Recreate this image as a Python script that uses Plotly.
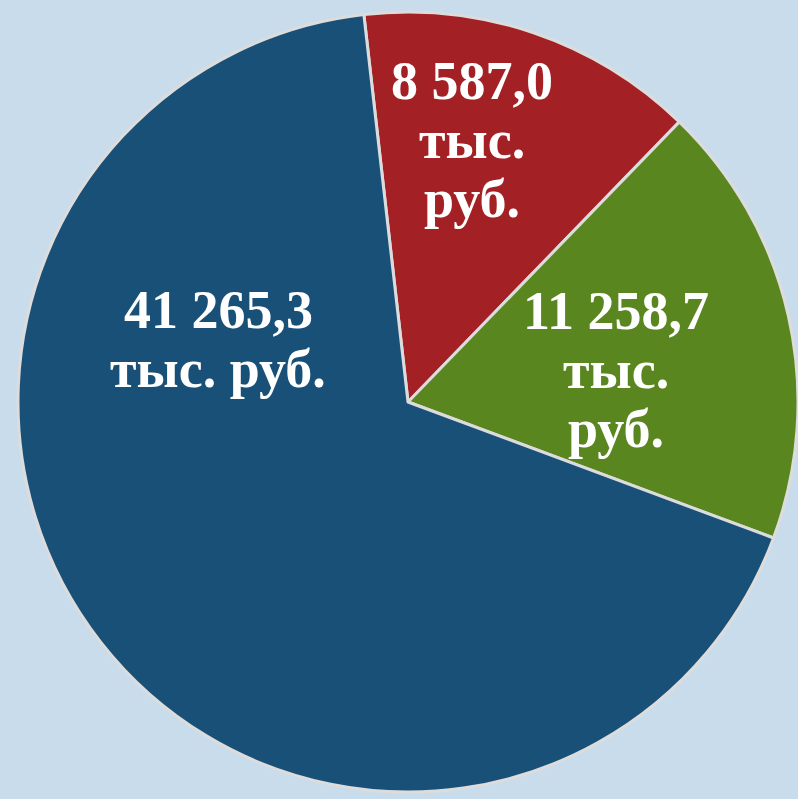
import plotly.graph_objects as go

# Data
categories = ["Категория 1", "Категория 2", "Категория 3"]
values = [8587.0, 11258.7, 41265.3]
colors = ["#a32025", "#5a861f", "#185078"]
unit_lines = [["тыс.", "руб."], ["тыс.", "руб."], ["тыс. руб."]]

W, H = 798, 799
FS = 54


def fmt(v):
    s = f"{v:,.1f}"
    return s.replace(",", " ").replace(".", ",")


fig = go.Figure()
fig.add_trace(go.Pie(
    labels=categories,
    values=values,
    sort=False,
    direction="clockwise",
    rotation=353.5,
    marker=dict(colors=colors, line=dict(color="#dcdcdc", width=3)),
    textinfo="none",
    hoverinfo="label+value",
    showlegend=False,
    domain=dict(x=[18 / W, 1.0], y=[7 / H, 787 / H]),
))

# label placement: (centre x, first baseline y) in window pixels, line step
label_px = [(472, 99), (616, 329), (218, 328)]
LINE_STEP = 59
for v, units, (px, by) in zip(values, unit_lines, label_px):
    lines = [fmt(v)] + units
    for i, ln in enumerate(lines):
        base = by + i * LINE_STEP
        mid = base - 0.34 * FS
        fig.add_annotation(
            x=px / W, y=1 - mid / H, xref="paper", yref="paper",
            text=ln, showarrow=False,
            xanchor="center", yanchor="middle", align="center",
            font=dict(family="Liberation Serif", size=FS, color="white", weight="bold"),
        )

fig.update_layout(
    width=W, height=H,
    margin=dict(l=0, r=0, t=0, b=0),
    paper_bgcolor="#c9dcec",
    plot_bgcolor="#c9dcec",
)

fig.write_html("out.html")
